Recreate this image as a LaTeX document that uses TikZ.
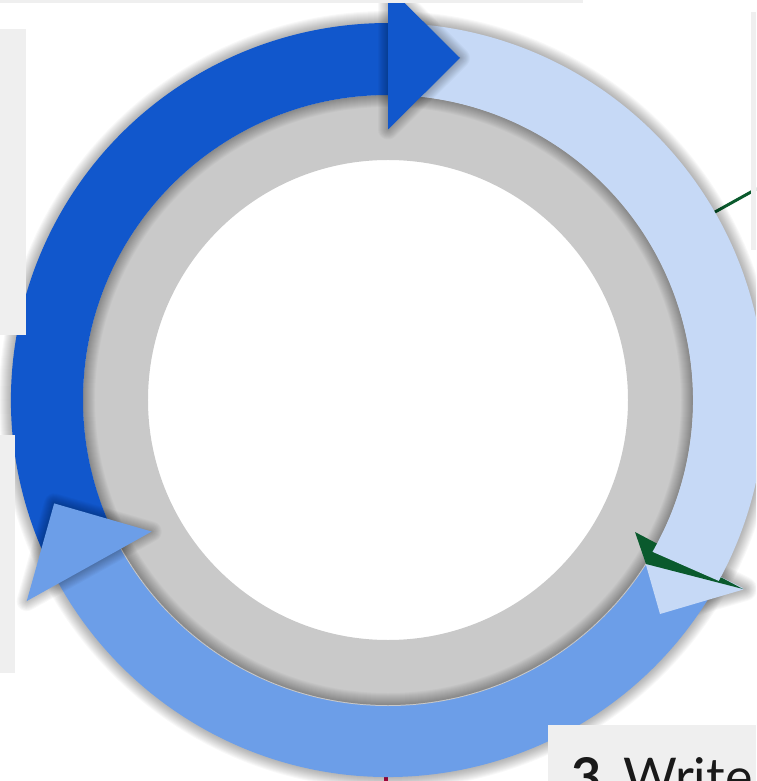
\documentclass[tikz,border=0pt]{standalone}
\usepackage{fontspec}
\newfontfamily\lato{Lato}
\usetikzlibrary{calc}
\definecolor{dbc}{HTML}{1157CC}
\definecolor{lbc}{HTML}{C6D9F6}
\definecolor{mbc}{HTML}{6C9EE8}
\definecolor{ringc}{HTML}{C9C9C9}
\definecolor{panelc}{HTML}{EFEFEF}
\definecolor{greenc}{HTML}{0A5A2D}
\definecolor{crimc}{HTML}{C8104E}
\begin{document}
\begin{tikzpicture}[x=1pt,y=1pt,
  shadstroke/.style={draw=black,draw opacity=0.028,line join=round},
  panel/.style={fill=panelc}]
\useasboundingbox (-388,-381) rectangle (368,400);
\clip (-388,-381) rectangle (368,400);

% named corner points of the arrow heads
\coordinate (dbw1) at (0,270.5);
\coordinate (dbw2) at (0,413.5);
\coordinate (dbt) at (72,342);
\coordinate (mbw1) at (209.1:270.5);
\coordinate (mbw2) at (209.1:413.5);
\coordinate (mbt) at ($(209.1:342)+(119.1:72)$);
\coordinate (lbw1) at (249.6,-135.6);
\coordinate (lbw2) at (357,-189);
\coordinate (lbt) at (272,-214);

% connectors lying under the ring
\coordinate (g1a) at (309,178);
\coordinate (g1b) at (372,213);
\draw[greenc,line width=3pt] (g1a) -- (g1b);
\coordinate (c1a) at (-2.5,-360);
\coordinate (c1b) at (-2.5,-390);
\draw[crimc,line width=4pt] (c1a) -- (c1b);

% outer shadow of the arrow ring
\foreach \k in {1,...,12}{\draw[shadstroke,line width=2*\k pt] (0,0) circle[radius=377];}
\foreach \k in {1,...,12}{\draw[shadstroke,line width=2*\k pt] (lbw1) -- (lbw2) -- (lbt) -- cycle;}

% medium blue band
\fill[mbc] (-30.5:377) arc[start angle=-30.5,end angle=-151.2,radius=377]
  -- (-151.2:305) arc[start angle=-151.2,end angle=-30.5,radius=305] -- cycle;

% light blue head (under the grey ring)
\begin{scope}
\clip (-400,-400) rectangle (355,420);
\fill[lbc] (lbw1) -- (lbw2) -- (lbt) -- cycle;
\end{scope}

% grey ring
\fill[ringc,even odd rule] (0,0) circle[radius=306] (0,0) circle[radius=240];
\begin{scope}
\clip (0,0) circle[radius=305];
\foreach \k in {1,...,12}{\draw[shadstroke,line width=2*\k pt] (0,0) circle[radius=305];}
\end{scope}

% green arrow
\begin{scope}
\clip (-400,-400) rectangle (355,420);
\coordinate (gp) at (247,-132);
\coordinate (ga) at (258,-164);
\coordinate (gb) at (355,-189);
\fill[greenc] (gp) -- (ga) -- (gb) -- cycle;
\end{scope}

% light blue band
\fill[lbc] (88:377) arc[start angle=88,end angle=-28.68,radius=377]
  -- (-29.85:305) arc[start angle=-29.85,end angle=88,radius=305] -- cycle;

% dark blue band
\fill[dbc] (206:377) arc[start angle=206,end angle=89.5,radius=377]
  -- (89.5:305) arc[start angle=89.5,end angle=206,radius=305] -- cycle;

% dark blue head
\foreach \k in {1,...,10}{\draw[shadstroke,line width=2*\k pt] (dbw1) -- (dbw2) -- (dbt) -- cycle;}
\fill[dbc] (dbw1) -- (dbw2) -- (dbt) -- cycle;

% medium blue head
\foreach \k in {1,...,10}{\draw[shadstroke,line width=2*\k pt] (mbw1) -- (mbw2) -- (mbt) -- cycle;}
\fill[mbc] (mbw1) -- (mbw2) -- (mbt) -- cycle;

% panels
\fill[panel] (-388,397) rectangle (195,400);
\fill[panel] (-388,65) rectangle (-362,371);
\fill[panel] (-388,-273) rectangle (-373,-35);
\fill[panel] (363,150) rectangle (368,388);
\fill[panel] (160,-381) rectangle (368,-325);
\node[anchor=base west,inner sep=0pt,text=black!90,font=\lato\fontsize{52}{52}\selectfont] (t3) at (183,-395.4) {\textbf{3}.\hspace{-8pt} Write};
\end{tikzpicture}
\end{document}
